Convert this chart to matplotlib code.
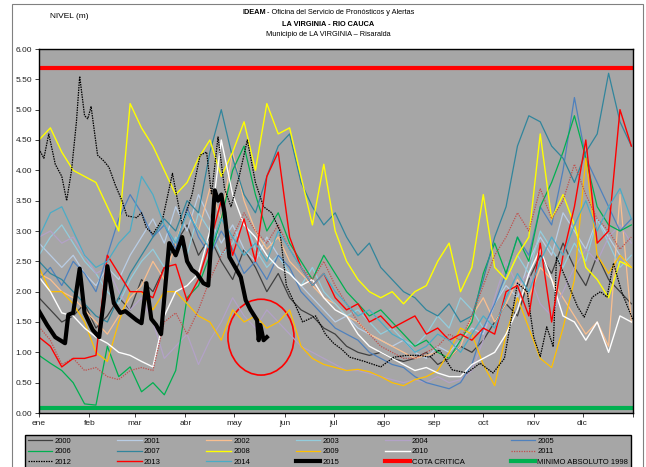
import numpy as np
import matplotlib.pyplot as plt
from matplotlib.patches import Ellipse, Rectangle

plt.rcParams['font.family'] = ['Liberation Sans Narrow', 'Liberation Sans', 'DejaVu Sans']

W, H = 646, 467

# months (day of year where each month starts)
month_starts = [0, 31, 59, 90, 120, 151, 181, 212, 243, 273, 304, 334, 365]
month_labels = ['ene', 'feb', 'mar', 'abr', 'may', 'jun',
                'jul', 'ago', 'sep', 'oct', 'nov', 'dic', '']

# weekly levels (m), one value every 7 days starting 1 Jan
y2000 = [1.9, 1.7, 1.5, 1.6, 1.8, 1.4, 1.6, 1.9, 1.7, 2.2,
         2.0, 2.4, 2.8, 3.1, 2.6, 2.9, 2.5, 2.2, 2.7, 2.4,
         2.0, 2.3, 1.9, 1.7, 1.6, 1.4, 1.3, 1.1, 1.0, 0.95,
         1.0, 0.9, 0.85, 0.9, 1.0, 0.8, 0.9, 1.1, 1.0, 1.2,
         1.5, 1.8, 1.6, 2.2, 2.6, 2.3, 2.8, 2.4, 2.1, 2.6,
         2.2, 2.0, 1.8]
y2001 = [2.8, 2.6, 2.4, 2.6, 2.3, 2.1, 2.4, 2.2, 2.6, 2.9,
         3.2, 2.8, 3.4, 3.0, 3.6, 3.2, 2.8, 3.1, 2.7, 2.5,
         2.9, 2.6, 2.3, 2.1, 1.9, 1.7, 1.5, 1.6, 1.4, 1.3,
         1.2, 1.1, 1.2, 1.0, 0.9, 1.1, 1.0, 1.2, 1.4, 1.3,
         1.8, 2.1, 1.9, 2.5, 2.9, 2.6, 3.3, 3.0, 2.7, 3.2,
         2.9, 2.6, 2.4]
y2002 = [2.3, 2.2, 2.0, 1.9, 1.7, 1.5, 1.3, 1.6, 1.9, 2.1,
         2.5, 2.2, 2.8, 3.4, 3.0, 3.7, 3.2, 4.3, 3.5, 3.0,
         2.7, 2.9, 2.5, 2.3, 2.1, 1.9, 1.8, 1.6, 1.5, 1.3,
         1.2, 1.1, 1.0, 0.9, 0.95, 1.0, 0.9, 1.1, 1.6, 1.9,
         1.5, 1.8, 2.2, 1.9, 2.4, 2.2, 1.9, 1.6, 1.3, 1.5,
         1.1, 3.6, 1.5]
y2003 = [2.6, 2.9, 3.1, 2.8, 2.5, 2.3, 2.0, 1.8, 2.2, 2.5,
         2.7, 2.4, 2.9, 2.6, 3.3, 3.0, 2.6, 2.8, 3.2, 2.7,
         2.4, 2.6, 2.3, 2.1, 2.4, 2.0, 1.8, 1.6, 1.7, 1.5,
         1.3, 1.4, 1.2, 1.1, 1.3, 1.6, 1.4, 1.9, 1.7, 1.4,
         1.8, 2.2, 2.6, 2.3, 3.0, 2.7, 2.4, 2.8, 2.5, 3.2,
         2.8, 2.4, 2.6]
y2004 = [2.9, 3.0, 2.8, 2.9, 2.6, 2.3, 2.4, 2.0, 1.7, 1.9,
         1.5, 0.9, 1.1, 1.3, 0.8, 1.2, 1.5, 1.9, 1.6, 1.4,
         1.7, 1.5, 1.3, 1.1, 1.0, 0.9, 0.8, 0.7, 0.7, 0.65,
         0.6, 0.55, 0.5, 0.55, 0.5, 0.6, 0.5, 0.55, 0.7, 1.2,
         1.9, 2.5, 2.1, 2.3, 1.8, 1.6, 2.0, 2.4, 2.7, 2.5,
         2.9, 3.1, 2.8]
y2005 = [2.2, 2.4, 2.1, 2.5, 2.3, 2.0, 2.6, 3.2, 3.6, 3.3,
         2.9, 3.1, 2.7, 3.4, 2.9, 2.6, 3.0, 2.7, 2.3, 2.5,
         2.2, 2.6, 2.4, 2.0, 1.8, 1.6, 1.4, 1.3, 1.2, 1.0,
         0.9, 0.8, 0.75, 0.6, 0.5, 0.45, 0.4, 0.5, 0.8, 1.4,
         1.8, 2.3, 2.9, 2.6, 3.4, 3.1, 4.0, 5.2, 4.2, 3.8,
         3.4, 3.0, 3.2]
y2006 = [0.95, 0.82, 0.7, 0.5, 0.15, 0.13, 1.1, 0.6, 0.76, 0.35,
         0.5, 0.3, 0.7, 1.9, 2.1, 2.6, 3.2, 4.0, 4.4, 3.6,
         3.0, 3.3, 2.8, 2.5, 2.2, 2.6, 2.3, 2.0, 1.8, 1.6,
         1.7, 1.5, 1.3, 1.1, 1.2, 1.0, 0.9, 1.2, 1.5, 2.3,
         2.8, 2.3, 2.9, 2.5, 3.4, 3.8, 4.3, 4.9, 4.2, 3.4,
         3.1, 3.0, 3.1]
y2007 = [2.5, 2.3, 2.2, 2.0, 1.8, 1.6, 1.5, 1.9, 2.3, 2.6,
         2.9, 3.2, 3.0, 3.5, 3.3, 4.3, 5.0, 4.2, 3.6, 3.3,
         3.9, 4.4, 4.6, 3.8, 3.4, 3.1, 3.3, 2.9, 2.6, 2.8,
         2.4, 2.2, 2.0, 1.9, 1.7, 1.6, 1.8, 1.5, 1.6, 2.2,
         2.9, 3.4, 4.4, 4.9, 4.8, 4.4, 4.2, 3.8, 4.3, 4.6,
         5.6, 4.8, 4.4]
y2008 = [4.5, 4.7, 4.3, 4.0, 3.9, 3.8, 3.4, 3.0, 5.1, 4.7,
         4.4, 4.0, 3.6, 3.8, 4.2, 4.5, 3.9, 4.3, 4.8, 4.0,
         5.1, 4.6, 4.7, 3.9, 3.1, 4.1, 3.0, 2.5, 2.2, 2.0,
         1.9, 2.0, 1.8, 2.0, 2.1, 2.5, 2.8, 2.0, 2.4, 3.6,
         2.4, 2.2, 2.6, 2.9, 4.6, 3.2, 3.6, 3.1, 2.4, 2.2,
         1.9, 2.5, 2.4]
y2009 = [2.4, 2.0, 2.0, 1.8, 1.5, 1.0, 0.85, 1.5, 2.0, 2.0,
         1.7, 2.0, 2.0, 1.8, 1.6, 1.5, 1.2, 1.7, 1.5, 1.6,
         1.4, 1.5, 1.7, 1.1, 0.9, 0.8, 0.75, 0.7, 0.72, 0.68,
         0.6, 0.5, 0.45, 0.55, 0.6, 0.7, 1.0, 1.4, 1.3, 0.8,
         0.45, 1.3, 1.9, 1.4, 0.9, 0.75, 1.4, 2.2, 4.2, 2.6,
         2.3, 2.6, 2.4]
y2010 = [2.24, 2.0, 1.65, 1.6, 1.4, 1.25, 1.15, 1.0, 0.95, 0.85,
         0.76, 1.6, 2.0, 2.1, 2.3, 3.0, 4.5, 3.6, 3.1, 2.9,
         2.6, 2.4, 2.3, 2.1, 2.2, 1.9, 1.7, 1.6, 1.3, 1.1,
         1.0, 0.9, 0.8, 0.7, 0.75, 0.66, 0.6, 0.6, 0.8, 0.9,
         1.0, 1.3, 1.7, 2.3, 2.7, 2.2, 1.6, 1.5, 1.2, 1.5,
         1.0, 1.6, 1.5]
y2011 = [1.42, 1.2, 0.8, 0.9, 0.7, 0.75, 0.6, 0.55, 0.7, 0.75,
         0.7, 1.5, 1.65, 1.3, 1.7, 2.2, 2.6, 2.9, 3.3, 3.0,
         2.8, 3.1, 2.7, 2.4, 2.2, 2.5, 2.1, 1.8, 1.5, 1.3,
         1.1, 1.0, 0.9, 0.9, 1.0, 1.1, 1.3, 1.2, 1.6, 2.1,
         2.6, 2.9, 3.3, 3.0, 3.7, 3.2, 3.5, 4.1, 3.6, 3.2,
         3.0, 2.7, 2.9]
y2013 = [1.25, 1.1, 0.76, 0.9, 0.9, 0.95, 2.6, 2.3, 2.0, 2.0,
         1.9, 2.4, 2.45, 1.85, 2.2, 2.8, 3.5, 2.6, 3.2, 2.5,
         3.9, 4.3, 2.9, 2.4, 2.1, 2.3, 1.9, 1.7, 1.8, 1.5,
         1.6, 1.4, 1.5, 1.6, 1.3, 1.4, 1.2, 1.3, 1.2, 1.4,
         1.3, 2.0, 2.1, 1.6, 2.8, 1.5, 2.6, 3.4, 4.5, 2.8,
         3.0, 5.0, 4.4]
y2014 = [2.9, 3.3, 3.4, 3.0, 2.6, 2.4, 2.5, 2.8, 3.0, 3.9,
         3.6, 3.1, 2.8, 3.3, 3.0, 2.7, 3.2, 2.9, 2.6, 2.8,
         2.5, 3.0, 2.7, 2.4, 2.1, 2.3, 2.0, 1.8, 1.6, 1.7,
         1.5, 1.3, 1.2, 1.0, 1.1, 1.3, 1.2, 1.0, 1.3, 1.6,
         1.4, 1.9, 2.3, 2.0, 2.5, 2.9, 2.6, 3.1, 3.5, 3.0,
         3.4, 3.7, 3.2]

# 2012 and 2015 read at their own days
d2012 = [0, 3, 6, 10, 14, 17, 20, 23, 25, 28, 30, 32, 36, 40, 43, 47, 51, 54,
         60, 63, 66, 70, 76, 82, 88, 94, 99, 103, 106, 110, 114, 118, 123, 128,
         133, 138, 143, 148, 152, 158, 162, 170, 176, 181, 186, 191, 200, 210,
         218, 226, 234, 240, 246, 254, 263, 271, 279, 286, 294, 300, 304, 308,
         312, 316, 318, 324, 331, 335, 340, 345, 349, 353, 358, 365]
v2012 = [4.35, 4.2, 4.6, 4.1, 3.9, 3.5, 4.0, 4.8, 5.55, 4.9, 4.85, 5.05, 4.25,
         4.15, 4.05, 3.75, 3.5, 3.25, 3.22, 3.3, 3.05, 2.95, 3.2, 3.95, 3.1, 3.6,
         4.25, 4.3, 3.6, 4.55, 3.7, 3.4, 3.9, 4.5, 3.8, 3.4, 3.3, 3.0, 2.1, 1.75,
         1.5, 1.6, 1.3, 1.15, 1.05, 0.92, 0.85, 0.76, 0.92, 0.95, 0.95, 0.92,
         1.04, 0.71, 0.66, 0.82, 0.66, 0.9, 2.14, 2.0, 1.25, 0.93, 1.42, 1.09,
         2.57, 2.2, 1.75, 1.58, 1.91, 2.0, 1.91, 2.47, 2.0, 1.53]
d2015 = [0, 5, 10, 16, 18, 21, 25, 28, 33, 37, 40, 42, 46, 50, 53, 60, 63, 66,
         69, 72, 75, 80, 84, 88, 91, 94, 97, 101, 104, 108, 110, 112, 114, 117,
         124, 127, 130, 134, 135, 136, 138, 140]
v2015 = [1.68, 1.45, 1.25, 1.15, 1.62, 1.65, 2.38, 1.65, 1.37, 1.25, 1.9, 2.42,
         1.81, 1.65, 1.68, 1.53, 1.48, 2.14, 1.55, 1.45, 1.3, 2.8, 2.6, 2.9, 2.5,
         2.36, 2.3, 2.14, 2.1, 3.67, 3.5, 3.6, 3.3, 2.57, 2.24, 1.86, 1.7, 1.53,
         1.2, 1.45, 1.2, 1.25]

cota_critica = 5.68
minimo_absoluto = 0.09

weekly = [('2000', y2000, '#404040', 0.9, '-'),
          ('2001', y2001, '#b9cde5', 0.9, '-'),
          ('2002', y2002, '#fabf8f', 0.9, '-'),
          ('2003', y2003, '#93cddd', 0.9, '-'),
          ('2004', y2004, '#b3a2c7', 0.9, '-'),
          ('2005', y2005, '#4f81bd', 0.9, '-'),
          ('2006', y2006, '#00b050', 0.9, '-'),
          ('2007', y2007, '#31859c', 0.9, '-'),
          ('2008', y2008, '#ffff00', 1.0, '-'),
          ('2009', y2009, '#ffc000', 0.9, '-'),
          ('2010', y2010, '#ffffff', 1.0, '-'),
          ('2011', y2011, '#c0504d', 0.9, (0, (1, 1)))]

fig = plt.figure(figsize=(W / 100, H / 100), dpi=100)
ax = fig.add_axes([39 / W, 1 - 413 / H, (633 - 39) / W, (413 - 49) / H])
ax.set_facecolor('#a6a6a6')

handles = []
for lab, vals, col, lw, ls in weekly:
    days = np.arange(len(vals)) * 7
    h, = ax.plot(days, vals, color=col, lw=lw, ls=ls, label=lab)
    handles.append(h)

h, = ax.plot(d2012, v2012, color='black', lw=0.9, ls=(0, (1.2, 0.8)), label='2012')
handles.append(h)
h, = ax.plot(np.arange(len(y2013)) * 7, y2013, color='#ff0000', lw=1.0, label='2013')
handles.append(h)
h, = ax.plot(np.arange(len(y2014)) * 7, y2014, color='#4bacc6', lw=0.9, label='2014')
handles.append(h)
h, = ax.plot(d2015, v2015, color='black', lw=3.0, solid_joinstyle='round', label='2015')
handles.append(h)
handles.append(ax.axhline(cota_critica, color='#ff0000', lw=3.0, label='COTA CRITICA'))
handles.append(ax.axhline(minimo_absoluto, color='#00b050', lw=3.0,
                          label='MINIMO ABSOLUTO 1998'))

# red circle around the latest 2015 values
ax.add_patch(Ellipse((136.4, 1.25), 40.6, 1.25, fill=False, edgecolor='#ff0000', lw=1.2))

ax.set_xlim(0, 365)
ax.set_ylim(0, 6)
ax.set_xticks(month_starts)
ax.set_xticklabels(month_labels)
ax.set_yticks(np.arange(0, 6.01, 0.5))
ax.set_yticklabels(['%.2f' % v for v in np.arange(0, 6.01, 0.5)])
ax.tick_params(labelsize=6, length=3, width=0.6, pad=2, colors='#222222')
for s in ax.spines.values():
    s.set_color('black')
    s.set_linewidth(1.0)

# titles
fig.text(50 / W, 1 - 17 / H, 'NIVEL (m)', fontsize=6, va='center', ha='left')
fig.text(266 / W, 1 - 13 / H, 'IDEAM', fontsize=5.3, fontweight='bold', va='center', ha='right')
fig.text(267 / W, 1 - 13 / H, '- Oficina del Servicio de Pronósticos y Alertas',
         fontsize=5.3, va='center', ha='left')
fig.text(328 / W, 1 - 24 / H, 'LA VIRGINIA - RIO CAUCA', fontsize=5.3,
         fontweight='bold', va='center', ha='center')
fig.text(328 / W, 1 - 35 / H, 'Municipio de LA VIRGINIA – Risaralda', fontsize=5.3,
         va='center', ha='center')

# legend laid out row by row like the original
order = [r * 6 + c for c in range(6) for r in range(3)]
leg = fig.legend([handles[i] for i in order], [handles[i].get_label() for i in order],
                 ncol=6, loc='upper left', mode='expand',
                 bbox_to_anchor=(25 / W, 1 - 435 / H - 0.2, 606 / W, 0.2),
                 borderaxespad=0, fontsize=5.5, handlelength=3.2, handletextpad=0.3,
                 labelspacing=0.4, borderpad=0.35, fancybox=False, framealpha=1)
leg.get_frame().set_facecolor('#a6a6a6')
leg.get_frame().set_edgecolor('black')
leg.get_frame().set_linewidth(1.0)

fig.patches.append(Rectangle((12 / W, -0.1), (643 - 12) / W, 1.1 - 4 / H,
                             transform=fig.transFigure, fill=False,
                             edgecolor='#808080', lw=0.8))

fig.savefig('out.png', dpi=100)
